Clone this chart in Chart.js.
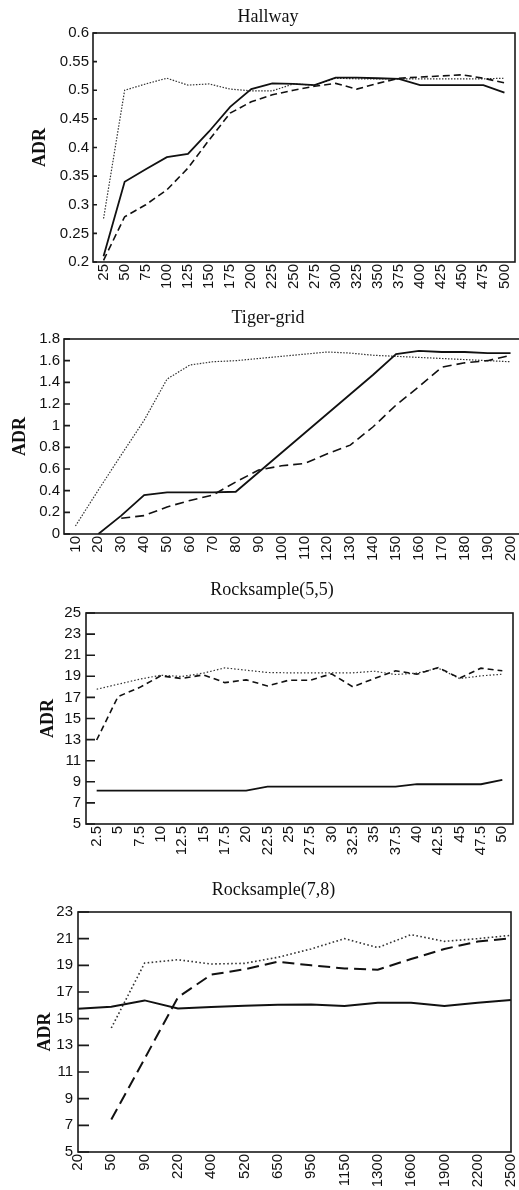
<!DOCTYPE html>
<html>
<head>
    <title>ADR curves</title>
    <script src="https://cdn.jsdelivr.net/npm/chart.js"></script>
    <style>
        body { margin: 0; width: 519px; height: 1190px; overflow: hidden; background: #fff; position: relative; }
        canvas { position: absolute; left: 0; }
    </style>
</head>
<body>
    <canvas id="hallway" width="519" height="295" style="top:0px"></canvas>
    <canvas id="tiger" width="522" height="285" style="top:295px"></canvas>
    <canvas id="rock55" width="519" height="300" style="top:570px"></canvas>
    <canvas id="rock78" width="519" height="325" style="top:865px"></canvas>
    <script>
        // Hallway
        const hallwayX = ['25','50','75','100','125','150','175','200','225','250','275','300','325','350','375','400','425','450','475','500'];
        const hallwaySolid  = [0.21, 0.34, 0.362, 0.383, 0.389, 0.428, 0.471, 0.502, 0.512, 0.511, 0.509, 0.522, 0.522, 0.521, 0.520, 0.509, 0.509, 0.509, 0.509, 0.496];
        const hallwayDashed = [0.203, 0.279, 0.300, 0.326, 0.364, 0.413, 0.460, 0.480, 0.492, 0.500, 0.507, 0.512, 0.502, 0.512, 0.521, 0.523, 0.525, 0.527, 0.521, 0.513];
        const hallwayDotted = [0.276, 0.500, 0.511, 0.521, 0.509, 0.511, 0.502, 0.499, 0.499, 0.511, 0.509, 0.521, 0.520, 0.520, 0.520, 0.520, 0.520, 0.520, 0.520, 0.521];
        const hallwayYTicks = [0.2, 0.25, 0.3, 0.35, 0.4, 0.45, 0.5, 0.55, 0.6];

        // Tiger-grid
        const tigerX = ['10','20','30','40','50','60','70','80','90','100','110','120','130','140','150','160','170','180','190','200'];
        const tigerSolid  = [null, 0, 0.17, 0.36, 0.385, 0.385, 0.385, 0.39, 0.57, 0.75, 0.93, 1.11, 1.29, 1.47, 1.66, 1.69, 1.68, 1.68, 1.67, 1.67];
        const tigerDashed = [null, null, 0.145, 0.17, 0.25, 0.31, 0.36, 0.48, 0.59, 0.63, 0.65, 0.74, 0.82, 0.99, 1.19, 1.36, 1.54, 1.58, 1.60, 1.65];
        const tigerDotted = [0.074, 0.406, 0.73, 1.05, 1.43, 1.56, 1.59, 1.60, 1.62, 1.64, 1.66, 1.68, 1.67, 1.65, 1.64, 1.63, 1.62, 1.61, 1.60, 1.59];
        const tigerYTicks = [0, 0.2, 0.4, 0.6, 0.8, 1, 1.2, 1.4, 1.6, 1.8];

        // Rocksample(5,5)
        const rock55X = ['2.5','5','7.5','10','12.5','15','17.5','20','22.5','25','27.5','30','32.5','35','37.5','40','42.5','45','47.5','50'];
        const rock55Solid  = [8.17, 8.17, 8.17, 8.17, 8.17, 8.17, 8.17, 8.17, 8.55, 8.55, 8.55, 8.55, 8.55, 8.55, 8.55, 8.77, 8.77, 8.77, 8.77, 9.18];
        const rock55Dashed = [12.96, 17.08, 17.93, 19.04, 18.79, 19.14, 18.4, 18.66, 18.09, 18.63, 18.63, 19.23, 18.0, 18.79, 19.52, 19.2, 19.83, 18.82, 19.77, 19.52];
        const rock55Dotted = [17.77, 18.25, 18.72, 19.1, 18.98, 19.3, 19.8, 19.58, 19.36, 19.33, 19.33, 19.33, 19.33, 19.48, 19.17, 19.3, 19.77, 18.79, 19.04, 19.2];
        const rock55YTicks = [5, 7, 9, 11, 13, 15, 17, 19, 21, 23, 25];

        // Rocksample(7,8)
        const rock78X = ['20','50','90','220','400','520','650','950','1150','1300','1600','1900','2200','2500'];
        const rock78Solid  = [15.75, 15.9, 16.37, 15.77, 15.87, 15.97, 16.05, 16.07, 15.95, 16.2, 16.2, 15.95, 16.2, 16.4];
        const rock78Dashed = [null, 7.43, 12.0, 16.6, 18.3, 18.7, 19.27, 19.0, 18.77, 18.67, 19.47, 20.23, 20.78, 21.03];
        const rock78Dotted = [null, 14.3, 19.17, 19.42, 19.1, 19.15, 19.6, 20.23, 21.0, 20.33, 21.3, 20.8, 21.0, 21.25];
        const rock78YTicks = [5, 7, 9, 11, 13, 15, 17, 19, 21, 23];

        const INK = '#111';
        const tickFont = { family: 'Liberation Sans', size: 15 };
        const serif = 'Liberation Serif';

        // box round the plot area plus inward tick marks on the y axis
        const framePlugin = {
            id: 'frame',
            afterDatasetsDraw(chart, args, opts) {
                const { ctx, chartArea: a } = chart;
                const y = chart.scales.y;
                ctx.save();
                ctx.strokeStyle = '#1a1a1a';
                ctx.lineWidth = 1.6;
                ctx.beginPath();
                y.ticks.forEach((t, i) => {
                    const py = y.getPixelForTick(i);
                    ctx.moveTo(a.left, py);
                    ctx.lineTo(a.left + opts.tick, py);
                });
                ctx.stroke();
                ctx.strokeRect(a.left, a.top, a.right - a.left, a.bottom - a.top);
                ctx.restore();
            }
        };

        function line(data, style) {
            const s = {
                data: data,
                borderColor: INK,
                pointRadius: 0,
                fill: false,
                tension: 0,
                spanGaps: false
            };
            if (style.kind === 'solid') { s.borderWidth = style.width || 1.8; }
            if (style.kind === 'dashed') { s.borderWidth = style.width || 1.6; s.borderDash = style.dash || [7, 4]; }
            if (style.kind === 'dotted') { s.borderWidth = style.width || 1.2; s.borderDash = style.dash || [1.5, 1.5]; s.borderColor = '#333'; }
            return s;
        }

        function panel(id, p) {
            return new Chart(document.getElementById(id), {
                type: 'line',
                data: {
                    labels: p.labels,
                    datasets: p.datasets
                },
                plugins: [framePlugin],
                options: {
                    responsive: false,
                    animation: false,
                    layout: { padding: { left: p.left, right: p.right, top: 0, bottom: 0 } },
                    plugins: {
                        legend: { display: false },
                        tooltip: { enabled: false },
                        title: {
                            display: true,
                            text: p.title,
                            color: INK,
                            font: { family: serif, size: 18, weight: 'normal', lineHeight: 1.2 },
                            padding: { top: p.titleTop, bottom: p.titleBottom }
                        },
                        frame: { tick: p.tick }
                    },
                    scales: {
                        x: {
                            type: 'category',
                            offset: p.offset,
                            grid: { display: false, drawTicks: false },
                            border: { display: false },
                            ticks: {
                                autoSkip: false,
                                minRotation: 90,
                                maxRotation: 90,
                                padding: 2,
                                color: INK,
                                font: tickFont
                            },
                            afterFit: s => { s.height = p.xHeight; s.paddingLeft = 0; s.paddingRight = 0; }
                        },
                        y: {
                            min: p.yTicks[0],
                            max: p.yTicks[p.yTicks.length - 1],
                            grid: { display: false, drawTicks: false },
                            border: { display: false },
                            afterBuildTicks: s => { s.ticks = p.yTicks.map(v => ({ value: v })); },
                            ticks: {
                                padding: p.tickPad,
                                color: INK,
                                font: tickFont,
                                callback: v => String(v)
                            },
                            title: {
                                display: true,
                                text: 'ADR',
                                color: INK,
                                font: { family: serif, size: 18, weight: 'bold', lineHeight: 1.2 },
                                padding: { top: p.adrPad, bottom: 0 }
                            },
                            afterFit: s => { s.width = p.yWidth; s.paddingTop = 0; s.paddingBottom = 0; }
                        }
                    }
                }
            });
        }

        panel('hallway', {
            title: 'Hallway', labels: hallwayX, yTicks: hallwayYTicks, offset: true,
            datasets: [
                line(hallwaySolid, { kind: 'solid' }),
                line(hallwayDashed, { kind: 'dashed', dash: [7, 4] }),
                line(hallwayDotted, { kind: 'dotted' })
            ],
            left: 21, right: 4, yWidth: 72, xHeight: 33,
            titleTop: 6.2, titleBottom: 5.2, adrPad: 8.2, tickPad: 4, tick: 4
        });

        panel('tiger', {
            title: 'Tiger-grid', labels: tigerX, yTicks: tigerYTicks, offset: true,
            datasets: [
                line(tigerSolid, { kind: 'solid' }),
                line(tigerDashed, { kind: 'dashed', dash: [9, 5] }),
                line(tigerDotted, { kind: 'dotted' })
            ],
            left: 14, right: 0, yWidth: 50, xHeight: 46,
            titleTop: 12.2, titleBottom: 10.2, adrPad: -4.8, tickPad: 4, tick: 6
        });

        panel('rock55', {
            title: 'Rocksample(5,5)', labels: rock55X, yTicks: rock55YTicks, offset: true,
            datasets: [
                line(rock55Solid, { kind: 'solid' }),
                line(rock55Dashed, { kind: 'dashed', dash: [6, 4] }),
                line(rock55Dotted, { kind: 'dotted', dash: [1.5, 2] })
            ],
            left: 31, right: 6, yWidth: 55, xHeight: 46,
            titleTop: 9.2, titleBottom: 12.2, adrPad: 6.2, tickPad: 5, tick: 9
        });

        panel('rock78', {
            title: 'Rocksample(7,8)', labels: rock78X, yTicks: rock78YTicks, offset: false,
            datasets: [
                line(rock78Solid, { kind: 'solid', width: 2 }),
                line(rock78Dashed, { kind: 'dashed', width: 2, dash: [12, 6] }),
                line(rock78Dotted, { kind: 'dotted', width: 1.6, dash: [1.6, 2.4] })
            ],
            left: 36, right: 8, yWidth: 42, xHeight: 38,
            titleTop: 14.7, titleBottom: 10.7, adrPad: -1.8, tickPad: 5, tick: 11
        });
    </script>
</body>
</html>
